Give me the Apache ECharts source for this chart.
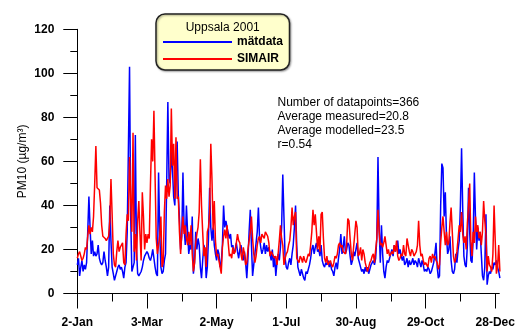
<!DOCTYPE html>
<html>
<head>
<meta charset="utf-8">
<script src="https://cdn.jsdelivr.net/npm/echarts@6/dist/echarts.min.js"></script>
<style>
  html, body { margin: 0; padding: 0; background: #fff; }
  #chart { width: 529px; height: 329px; }
</style>
</head>
<body>
<div id="chart"></div>
<script>
// Day offsets counted from 2 January 2001
const labelDays = [0, 60, 120, 180, 240, 300, 360];
const tickLabels = ['2-Jan', '3-Mar', '2-May', '1-Jul', '30-Aug', '29-Oct', '28-Dec'];
const monthTickDays = [0, 30, 60, 90, 120, 150, 180, 210, 240, 270, 300, 330, 360];

// Daily PM10 means, µg/m³ (measured)
const matdata = [
  13, 16, 8, 12, 15, 10, 13, 11, 14, 28,
  44, 30, 18, 24, 17, 19, 17, 18, 22, 16,
  14, 13, 14, 19, 15, 12, 8, 12, 40, 24,
  12, 9, 6, 8, 10, 12, 13, 11, 12, 10,
  7, 12, 14, 28, 65, 103, 35, 10, 12, 14,
  72, 20, 9, 8, 8, 10, 12, 15, 17, 18,
  19, 18, 16, 15, 17, 20, 16, 12, 9, 8,
  55, 28, 12, 9, 10, 15, 18, 50, 87, 52,
  50, 65, 56, 44, 40, 55, 69, 45, 34, 20,
  26, 55, 30, 22, 40, 28, 18, 22, 20, 35,
  9, 14, 28, 20, 25, 22, 12, 7, 15, 22,
  20, 7, 12, 25, 48, 30, 24, 30, 22, 18,
  15, 20, 18, 12, 14, 22, 40, 30, 33, 30,
  30, 25, 27, 21, 22, 18, 20, 23, 19, 16,
  20, 22, 18, 15, 19, 14, 7, 16, 28, 38,
  22, 8, 13, 18, 23, 28, 39, 25, 21, 18,
  20, 23, 18, 22, 19, 21, 18, 15, 20, 12,
  17, 8, 14, 18, 15, 21, 30, 54, 35, 16,
  12, 11, 14, 16, 13, 18, 22, 30, 40, 22,
  12, 10, 8, 11, 9, 7, 6, 10, 9, 11,
  13, 16, 20, 22, 18, 21, 23, 19, 20, 17,
  22, 15, 13, 12, 14, 13, 15, 12, 14, 11,
  10, 8, 12, 14, 11, 16, 20, 27, 18, 21,
  26, 18, 20, 23, 22, 17, 13, 15, 19, 17,
  20, 23, 16, 14, 12, 10, 11, 9, 12, 10,
  12, 9, 11, 13, 14, 15, 13, 16, 25, 62,
  30, 14, 31, 18, 10, 7, 12, 15, 14, 16,
  18, 20, 17, 22, 19, 21, 24, 18, 20, 17,
  15, 17, 13, 14, 16, 12, 15, 13, 14, 16,
  13, 15, 14, 12, 16, 14, 12, 15, 13, 10,
  11, 10, 12, 11, 9, 10, 12, 14, 18, 23,
  12, 7, 8, 40, 59, 57, 35, 46, 26, 18,
  20, 26, 15, 10, 9, 11, 18, 14, 20, 24,
  40, 66, 38, 17, 13, 12, 22, 48, 28, 15,
  14, 25, 55, 34, 20, 30, 24, 28, 18, 8,
  6, 12, 36, 4, 8, 10, 9, 12, 11, 14,
  13, 15, 12, 10, 7
];

// Daily PM10 means, µg/m³ (SIMAIR model)
const simair = [
  16, 18, 19, 17, 15, 16, 18, 21, 20, 26,
  31, 27, 30, 28, 35, 50, 67, 48, 48, 47,
  41, 31, 26, 26, 25, 24, 25, 26, 33, 52,
  36, 18, 13, 12, 19, 24, 19, 21, 22, 23,
  14, 13, 27, 36, 33, 62, 43, 28, 73, 19,
  27, 15, 33, 42, 27, 15, 46, 35, 20, 27,
  23, 27, 25, 49, 70, 60, 83, 53, 25, 18,
  18, 26, 35, 12, 14, 37, 49, 43, 52, 44,
  49, 84, 58, 68, 43, 71, 43, 44, 28, 18,
  28, 35, 27, 31, 25, 22, 28, 22, 31, 18,
  10, 14, 23, 27, 30, 37, 61, 40, 28, 17,
  21, 12, 28, 30, 37, 68, 52, 29, 42, 24,
  17, 18, 15, 12, 9, 21, 26, 29, 25, 31,
  23, 17, 18, 16, 21, 18, 19, 23, 27, 24,
  23, 18, 15, 21, 18, 13, 14, 20, 24, 28,
  35, 25, 18, 14, 17, 22, 25, 26, 23, 27,
  27, 25, 28, 28, 26, 23, 17, 19, 18, 17,
  16, 17, 13, 18, 24, 31, 25, 22, 13, 16,
  18, 19, 22, 24, 30, 39, 31, 35, 37, 16,
  15, 14, 17, 16, 14, 17, 15, 14, 16, 18,
  17, 22, 28, 38, 31, 36, 28, 20, 26, 19,
  36, 37, 25, 16, 14, 17, 13, 14, 15, 13,
  12, 14, 17, 16, 18, 22, 23, 21, 22, 19,
  19, 18, 22, 34, 33, 25, 18, 15, 21, 27,
  33, 30, 17, 18, 21, 15, 20, 18, 14, 12,
  10, 12, 14, 15, 17, 18, 14, 20, 25, 38,
  28, 22, 23, 21, 23, 26, 22, 18, 20, 17,
  17, 19, 18, 22, 19, 24, 17, 15, 16, 18,
  17, 22, 18, 17, 25, 25, 19, 17, 20, 19,
  17, 18, 19, 22, 33, 22, 17, 18, 15, 13,
  14, 13, 12, 16, 17, 14, 18, 16, 17, 15,
  14, 11, 13, 23, 30, 35, 28, 22, 28, 22,
  23, 32, 39, 28, 17, 14, 16, 19, 25, 31,
  28, 37, 27, 23, 26, 20, 32, 40, 50, 24,
  17, 28, 23, 35, 28, 31, 25, 28, 22, 28,
  42, 33, 27, 10, 17, 13, 12, 10, 18, 40,
  24, 9, 12, 22, 10
];

const statsLines = [
  'Number of datapoints=366',
  'Average measured=20.8',
  'Average modelled=23.5',
  'r=0.54'
];

const FONT = '"Liberation Sans", Arial, sans-serif';
const X_MIN = -1.72;
const X_MAX = 363.5;

const toPairs = arr => arr.map((v, i) => [i, v]);

const chart = echarts.init(document.getElementById('chart'), null, { renderer: 'canvas' });

chart.setOption({
  animation: false,
  backgroundColor: '#ffffff',
  grid: { left: 75.3, right: 29.7, top: 29.3, bottom: 35 },
  xAxis: [
    {
      type: 'value', min: X_MIN, max: X_MAX, position: 'bottom',
      axisLine: { show: true, onZero: false, lineStyle: { color: '#000', width: 1 } },
      axisTick: { show: true, length: 15, customValues: labelDays, lineStyle: { color: '#000' } },
      axisLabel: {
        customValues: labelDays,
        formatter: v => tickLabels[labelDays.indexOf(v)],
        margin: 23.5, color: '#000', fontFamily: FONT, fontSize: 12, fontWeight: 'bold'
      },
      splitLine: { show: false }
    },
    {
      type: 'value', min: X_MIN, max: X_MAX, position: 'bottom',
      axisLine: { show: false, onZero: false },
      axisTick: { show: true, length: 8, customValues: monthTickDays, lineStyle: { color: '#000' } },
      axisLabel: { show: false },
      splitLine: { show: false }
    }
  ],
  yAxis: {
    type: 'value', min: 0, max: 120, interval: 20,
    axisLine: { show: true, lineStyle: { color: '#000', width: 1 } },
    axisTick: { show: true, length: 14, lineStyle: { color: '#000' } },
    minorTick: { show: true, splitNumber: 2, length: 7, lineStyle: { color: '#000' } },
    axisLabel: { margin: 21, color: '#000', fontFamily: FONT, fontSize: 12, fontWeight: 'bold' },
    splitLine: { show: false },
    minorSplitLine: { show: false },
    name: 'PM10 (µg/m³)',
    nameLocation: 'middle', nameRotate: 90, nameGap: 47, nameMoveOverlap: false,
    nameTextStyle: { color: '#000', fontFamily: FONT, fontSize: 12 }
  },
  legend: {
    orient: 'vertical', left: 163, top: 36,
    itemWidth: 69, itemHeight: 2, itemGap: 5, icon: 'rect', padding: 0,
    selectedMode: false, z: 10,
    textStyle: { color: '#000', fontFamily: FONT, fontSize: 12, fontWeight: 'bold' },
    data: [
      { name: 'mätdata', itemStyle: { color: '#0000FF', borderWidth: 0 } },
      { name: 'SIMAIR', itemStyle: { color: '#FF0000', borderWidth: 0 } }
    ]
  },
  graphic: [
    {
      type: 'rect', z: 5,
      shape: { x: 156, y: 14, width: 133.5, height: 56, r: 9 },
      style: {
        fill: '#FFFFCC', stroke: '#222', lineWidth: 1.5,
        shadowBlur: 2, shadowOffsetX: 1, shadowOffsetY: 1, shadowColor: 'rgba(0,0,0,0.35)'
      }
    },
    {
      type: 'text', z: 6, x: 222.7, y: 27.7,
      style: { text: 'Uppsala 2001', align: 'center', verticalAlign: 'middle', fill: '#000', font: '12px ' + FONT }
    },
    {
      type: 'text', z: 6, x: 277.5, y: 96,
      style: { text: statsLines.join('\n'), align: 'left', verticalAlign: 'top', lineHeight: 14, fill: '#000', font: '12px ' + FONT }
    }
  ],
  series: [
    {
      name: 'mätdata', type: 'line', xAxisIndex: 0, data: toPairs(matdata),
      showSymbol: false, symbol: 'none', clip: true,
      lineStyle: { color: '#0000FF', width: 1.5 }, itemStyle: { color: '#0000FF' }
    },
    {
      name: 'SIMAIR', type: 'line', xAxisIndex: 0, data: toPairs(simair),
      showSymbol: false, symbol: 'none', clip: true,
      lineStyle: { color: '#FF0000', width: 1.5 }, itemStyle: { color: '#FF0000' }
    }
  ]
});
</script>
</body>
</html>
